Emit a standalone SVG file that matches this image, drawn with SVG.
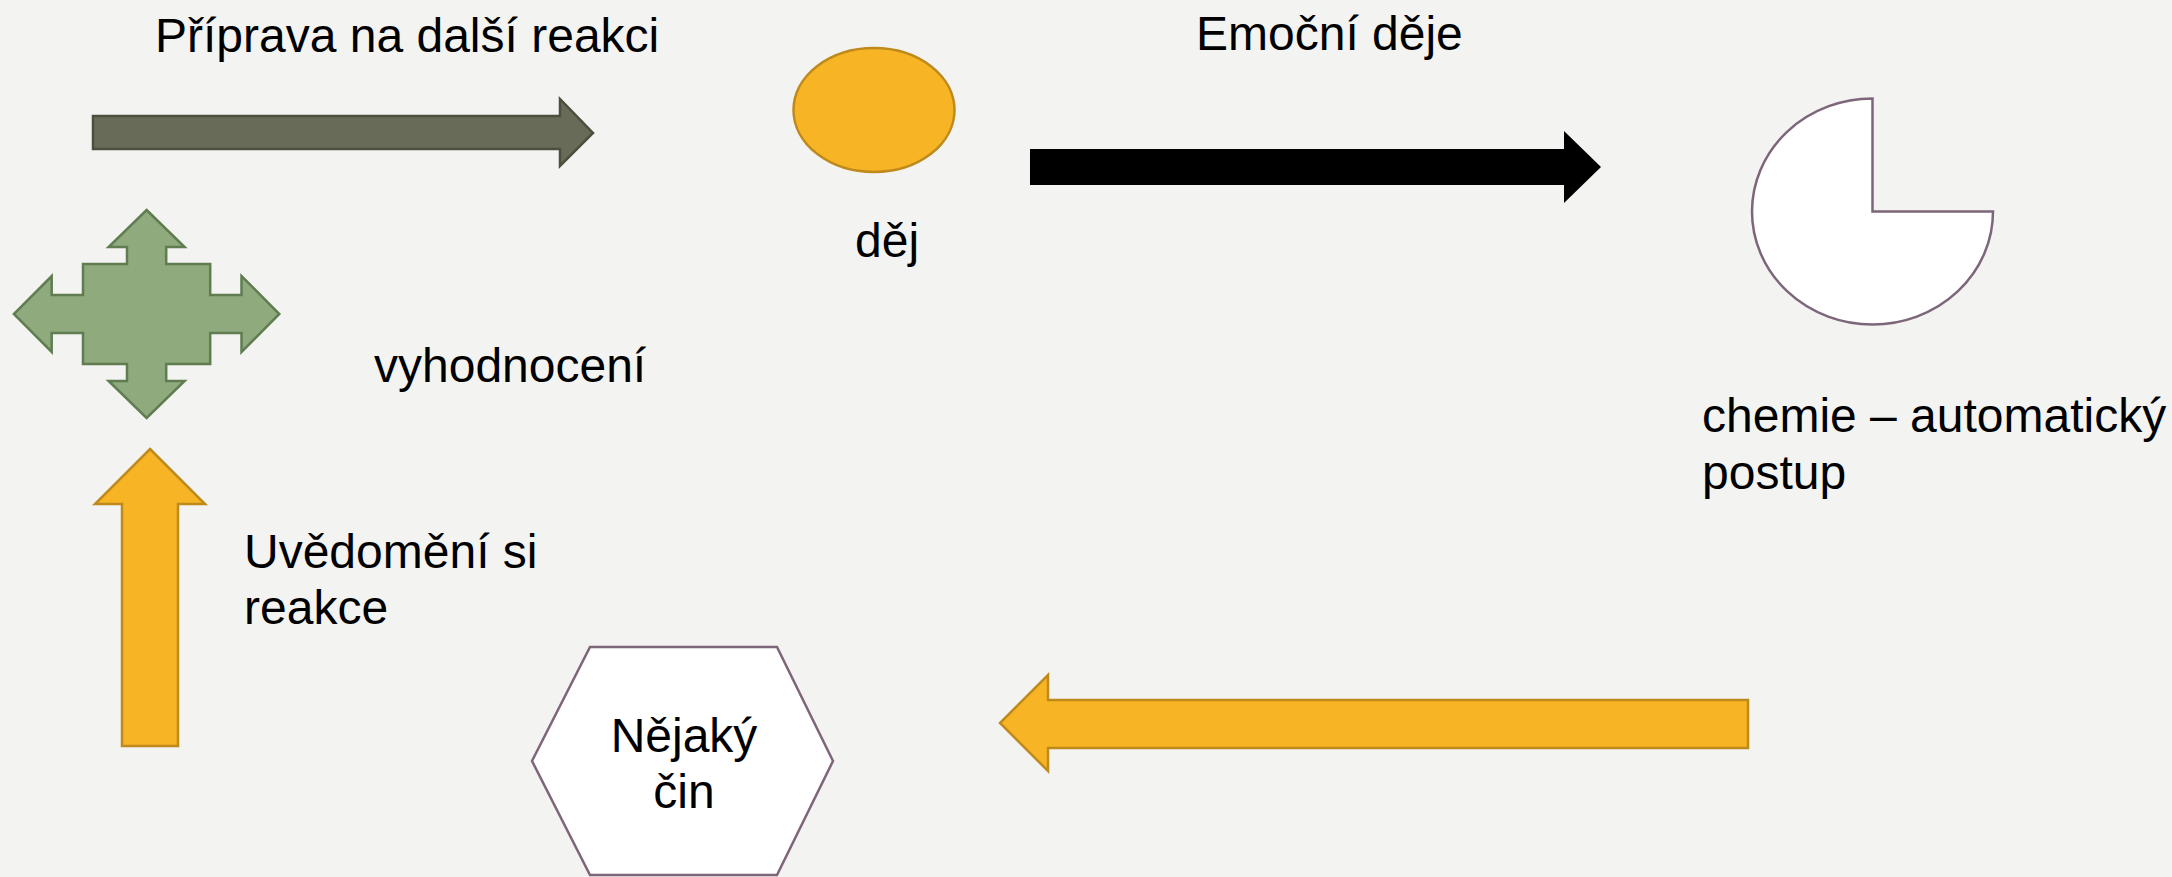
<svg xmlns="http://www.w3.org/2000/svg" width="2172" height="877" viewBox="0 0 2172 877">
  <style>
    .t { font-family: "Liberation Sans", Arial, sans-serif; font-size: 48px; fill: #000000; }
    .orange { fill: #F7B425; stroke: #BF8A1C; stroke-width: 2.5; }
    .white { fill: #FFFFFF; stroke: #7D6679; stroke-width: 2.5; }
    .green { fill: #8FAB7E; stroke: #5F7D51; stroke-width: 2.5; }
    .dark { fill: #676B57; stroke: #4B4F3D; stroke-width: 2.5; }
    .black { fill: #000000; }
  </style>
  <rect x="0" y="0" width="2172" height="877" fill="#F3F3F1"/>

  <g id="connectors">
    <g id="arrow-priprava">
      <polygon class="dark" points="93,116 560,116 560,99 593,133 560,166 560,149 93,149"/>
      <text class="t" x="155" y="52">Příprava na další reakci</text>
    </g>
    <g id="arrow-emocni">
      <polygon class="black" points="1030,149 1564,149 1564,131 1601,167 1564,203 1564,185 1030,185"/>
      <text class="t" x="1196" y="50">Emoční děje</text>
    </g>
    <g id="arrow-back">
      <polygon class="orange" points="1748,700 1048,700 1048,675 1000,723 1048,771 1048,748 1748,748"/>
    </g>
    <g id="arrow-uvedomeni">
      <polygon class="orange" points="150,449 205,504 178,504 178,746 122,746 122,504 95,504"/>
      <text class="t" x="244" y="568">Uvědomění si</text>
      <text class="t" x="244" y="624">reakce</text>
    </g>
  </g>

  <g id="node-dej">
    <ellipse class="orange" cx="874" cy="110" rx="80.5" ry="62"/>
    <text class="t" x="855" y="257">děj</text>
  </g>

  <g id="node-chemie">
    <path class="white" d="M1872.5,98.5 A120.5,113 0 1 0 1993,211.5 L1872.5,211.5 Z"/>
    <text class="t" x="1702" y="432">chemie – automatický</text>
    <text class="t" x="1702" y="489">postup</text>
  </g>

  <g id="node-cin">
    <polygon class="white" points="590,647 777,647 833,761 777,875 590,875 532,761"/>
    <text class="t" x="684" y="752" text-anchor="middle">Nějaký</text>
    <text class="t" x="684" y="808" text-anchor="middle">čin</text>
  </g>

  <g id="node-vyhodnoceni">
    <polygon class="green" points="146.6,210 184.6,247 166.2,247 166.2,264 210.2,264 210.2,295 241.5,295 241.5,276 279.3,314 241.5,352 241.5,333 210.2,333 210.2,364 166.2,364 166.2,381 184.6,381 146.6,418 108.6,381 127,381 127,364 83,364 83,333 51.7,333 51.7,352 13.9,314 51.7,276 51.7,295 83,295 83,264 127,264 127,247 108.6,247"/>
    <text class="t" x="374" y="382">vyhodnocení</text>
  </g>
</svg>
